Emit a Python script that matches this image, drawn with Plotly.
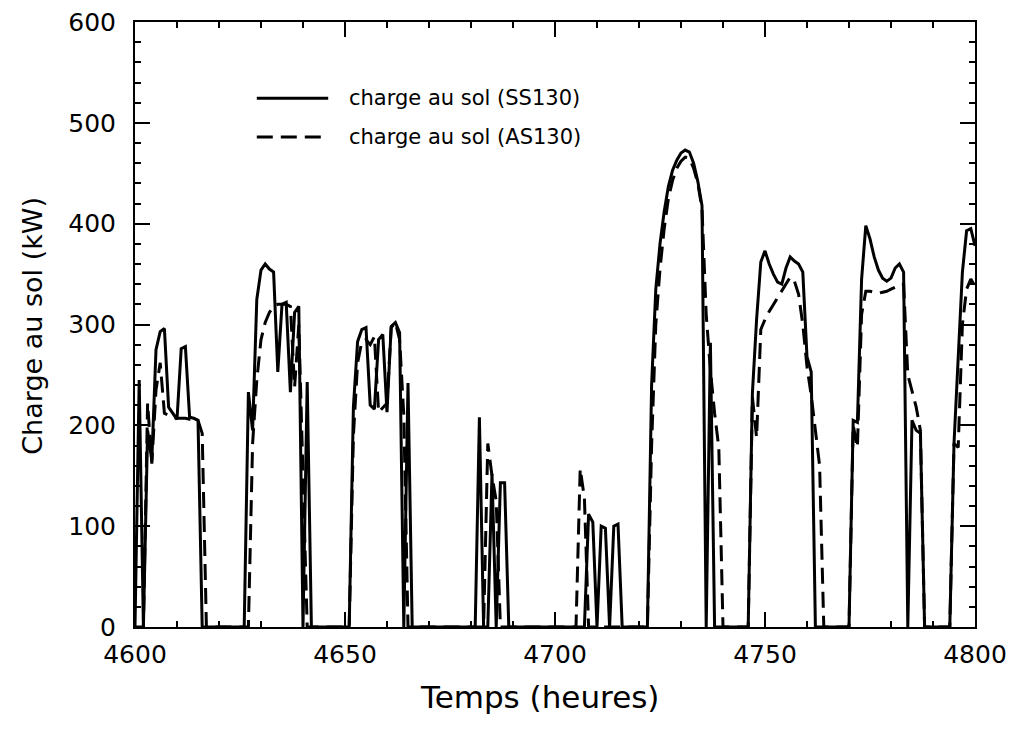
import plotly.graph_objects as go

# Hours 4600..4800 (hourly)
hours = list(range(4600, 4801))

# Charge au sol (SS130) - solid line, kW, one value per hour
ss130 = [
    0, 245, 0, 195, 165, 275, 293, 296, 218, 212,        # 4600-4609
    206, 276, 278, 208, 207, 205, 0, 0, 0, 0,            # 4610-4619
    0, 0, 0, 0, 0, 0, 0, 233, 195, 325,                  # 4620-4629
    354, 360, 355, 352, 253, 320, 322, 233, 312, 318,    # 4630-4639
    0, 243, 0, 0, 0, 0, 0, 0, 0, 0,                      # 4640-4649
    0, 0, 218, 283, 295, 297, 220, 216, 285, 290,        # 4650-4659
    213, 298, 302, 292, 0, 242, 0, 0, 0, 0,              # 4660-4669
    0, 0, 0, 0, 0, 0, 0, 0, 0, 0,                        # 4670-4679
    0, 0, 208, 0, 0, 152, 0, 143, 143, 0,                # 4680-4689
    0, 0, 0, 0, 0, 0, 0, 0, 0, 0,                        # 4690-4699
    0, 0, 0, 0, 0, 0, 0, 0, 112, 104,                    # 4700-4709
    0, 100, 98, 0, 100, 102, 0, 0, 0, 0,                 # 4710-4719
    0, 0, 0, 240, 335, 380, 412, 437, 453, 463,          # 4720-4729
    470, 473, 471, 460, 442, 418, 0, 282, 0, 0,          # 4730-4739
    0, 0, 0, 0, 0, 0, 0, 232, 305, 362,                  # 4740-4749
    373, 360, 350, 342, 340, 356, 367, 363, 360, 352,    # 4750-4759
    268, 253, 0, 0, 0, 0, 0, 0, 0, 0,                    # 4760-4769
    0, 205, 203, 345, 398, 385, 367, 354, 346, 343,      # 4770-4779
    346, 356, 360, 352, 0, 205, 195, 192, 0, 0,          # 4780-4789
    0, 0, 0, 0, 0, 182, 272, 352, 393, 395,              # 4790-4799
    378,                                                 # 4800
]

# Charge au sol (AS130) - dashed line, kW, one value per hour
as130 = [
    0, 0, 0, 222, 162, 235, 262, 212, 210, 208,          # 4600-4609
    207, 207, 207, 206, 206, 205, 192, 0, 0, 0,          # 4610-4619
    0, 0, 0, 0, 0, 0, 0, 0, 182, 245,                    # 4620-4629
    285, 302, 312, 318, 320, 320, 320, 318, 238, 300,    # 4630-4639
    150, 0, 0, 0, 0, 0, 0, 0, 0, 0,                      # 4640-4649
    0, 0, 190, 262, 283, 285, 280, 288, 213, 218,        # 4650-4659
    222, 297, 302, 285, 210, 0, 0, 0, 0, 0,              # 4660-4669
    0, 0, 0, 0, 0, 0, 0, 0, 0, 0,                        # 4670-4679
    0, 0, 0, 0, 182, 150, 125, 0, 0, 0,                  # 4680-4689
    0, 0, 0, 0, 0, 0, 0, 0, 0, 0,                        # 4690-4699
    0, 0, 0, 0, 0, 0, 157, 128, 0, 0,                    # 4700-4709
    0, 0, 0, 0, 0, 0, 0, 0, 0, 0,                        # 4710-4719
    0, 0, 0, 180, 300, 355, 395, 425, 443, 455,          # 4720-4729
    462, 466, 465, 455, 440, 415, 310, 255, 212, 178,    # 4730-4739
    0, 0, 0, 0, 0, 0, 0, 228, 188, 295,                  # 4740-4749
    305, 313, 320, 326, 333, 340, 347, 343, 330, 300,    # 4750-4759
    258, 230, 195, 160, 0, 0, 0, 0, 0, 0,                # 4760-4769
    0, 200, 178, 310, 333, 333, 332, 331, 332, 333,      # 4770-4779
    335, 337, 340, 340, 250, 235, 218, 195, 0, 0,        # 4780-4789
    0, 0, 0, 0, 0, 182, 178, 300, 335, 345,              # 4790-4799
    338,                                                 # 4800
]

series_names = ["charge au sol (SS130)", "charge au sol (AS130)"]
x_ticks = [4600, 4650, 4700, 4750, 4800]
y_ticks = [0, 100, 200, 300, 400, 500, 600]
x_title = "Temps (heures)"
y_title = "Charge au sol (kW)"

FONT = "DejaVu Sans"
DASH = "16px,8px"

fig = go.Figure()
fig.add_trace(go.Scatter(x=hours, y=ss130, mode="lines", name=series_names[0],
                         line=dict(color="black", width=3), showlegend=False))
fig.add_trace(go.Scatter(x=hours, y=as130, mode="lines", name=series_names[1],
                         line=dict(color="black", width=3, dash=DASH), showlegend=False))

axis_common = dict(
    showgrid=False, zeroline=False, showline=True, linecolor="black", linewidth=2,
    mirror="ticks", ticks="inside", tickcolor="black", tickwidth=1.5, ticklen=15,
    tickfont=dict(family=FONT, size=25, color="black"), automargin=False,
)

fig.update_xaxes(range=[4600, 4800], tickvals=x_ticks,
                 minor=dict(ticks="inside", dtick=10, ticklen=6, tickcolor="black", tickwidth=1.5),
                 ticklabelstandoff=4,
                 **axis_common)
fig.update_yaxes(range=[0, 600], tickvals=y_ticks,
                 minor=dict(ticks="inside", dtick=20, ticklen=6, tickcolor="black", tickwidth=1.5),
                 ticklabelstandoff=12,
                 **axis_common)

# Axis titles
fig.add_annotation(xref="paper", yref="paper", x=0.481, y=-0.1157, xanchor="center", yanchor="middle",
                   text=x_title, showarrow=False, font=dict(family=FONT, size=31, color="black"))
fig.add_annotation(xref="paper", yref="paper", x=-0.1214, y=0.498, xanchor="center", yanchor="middle",
                   text=y_title, textangle=-90, showarrow=False,
                   font=dict(family=FONT, size=27, color="black"))

# Custom legend (sample lines + labels) inside the plot area
legend_rows = [(0.874, "solid"), (0.810, DASH)]
for (ypos, dash), name in zip(legend_rows, series_names):
    fig.add_shape(type="line", xref="paper", yref="paper", x0=0.145, x1=0.230, y0=ypos, y1=ypos,
                  line=dict(color="black", width=3, dash=dash))
    fig.add_annotation(xref="paper", yref="paper", x=0.2524, y=ypos, xanchor="left", yanchor="middle",
                       text=name, showarrow=False, font=dict(family=FONT, size=21, color="black"))

fig.update_layout(
    width=1015, height=742,
    margin=dict(l=135, r=40, t=22, b=115),
    paper_bgcolor="white", plot_bgcolor="white",
    font=dict(family=FONT, color="black"),
)

fig.write_html("out.html")
